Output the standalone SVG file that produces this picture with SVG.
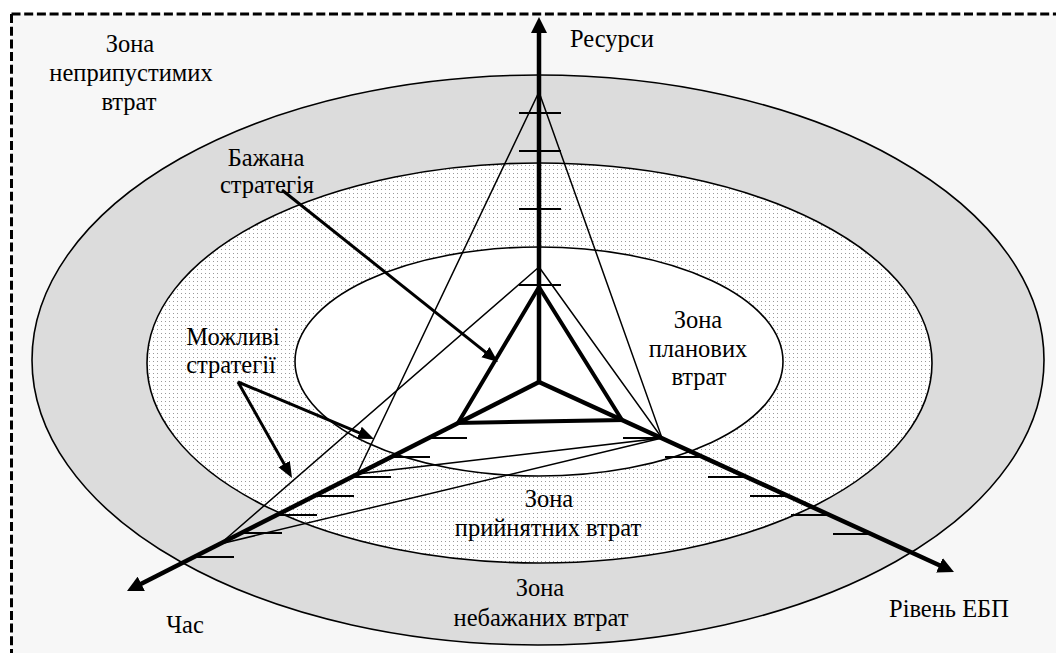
<svg xmlns="http://www.w3.org/2000/svg" width="1056" height="653" viewBox="0 0 1056 653">
<style>
text{font-family:'Liberation Serif','DejaVu Serif',serif;font-size:24.5px;fill:#000}
.zone{stroke:#000;stroke-width:1.6}
.axis{stroke:#000;stroke-width:4.5;fill:none}
.thick{stroke:#000;stroke-width:4;fill:none;stroke-linejoin:miter}
.thin{stroke:#000;stroke-width:1.5;fill:none}
.tick{stroke:#000;stroke-width:1.8}
.call{stroke:#000;stroke-width:3;fill:none}
</style>
<defs>
<pattern id="dots" width="4" height="4" patternUnits="userSpaceOnUse">
<rect width="4" height="4" fill="#fff"/>
<rect x="1" y="1" width="1" height="1" fill="#9a9a9a"/>
</pattern>
<marker id="axhead" markerUnits="userSpaceOnUse" markerWidth="18" markerHeight="16" refX="6" refY="8" orient="auto">
<path d="M0,0 L16,8 L0,16 z" fill="#000"/>
</marker>
<marker id="callhead" markerUnits="userSpaceOnUse" markerWidth="18" markerHeight="14" refX="6" refY="6.5" orient="auto">
<path d="M0,0 L16,6.5 L0,13 z" fill="#000"/>
</marker>
</defs>

<g id="frame">
<rect x="11.5" y="14" width="1060" height="660" fill="#f7f7f7"/>
<path d="M11.5,14 H1060 M11.5,14 V660" stroke="#000" stroke-width="3" stroke-dasharray="9,3.7" fill="none"/>
</g>

<g id="zone-undesired">
<ellipse cx="538" cy="360" rx="506" ry="285" fill="#dcdcdc" class="zone"/>
</g>
<g id="zone-acceptable">
<ellipse cx="539.5" cy="363" rx="392.5" ry="200" fill="url(#dots)" class="zone"/>
</g>
<g id="zone-planned">
<ellipse cx="539" cy="361.5" rx="244" ry="114.5" fill="#fff" class="zone"/>
</g>

<g id="ticks">
<path class="tick" d="M519,113 H561 M519,151 H561 M519,209 H561 M519,285 H561"/>
<path class="tick" d="M429,438 H467 M391,457 H430 M352,477 H391 M314,496 H354 M277,515 H317 M241,533 H282 M194,557 H234"/>
<path class="tick" d="M623,438 H661 M665,457 H703 M708,477 H746 M750,496 H788 M791,515 H829 M833,534 H871"/>
</g>

<g id="strategies">
<polygon class="thin" points="539,92 662,438 357,474"/>
<polygon class="thin" points="539,267 662,438 220,544"/>
<polygon class="thick" points="539,287 458,423 622,420"/>
</g>

<g id="axes">
<line id="axis-resources" class="axis" x1="539" y1="382" x2="539" y2="27" marker-end="url(#axhead)"/>
<line id="axis-time" class="axis" x1="539" y1="382" x2="135.9" y2="586.5" marker-end="url(#axhead)"/>
<line id="axis-ebp" class="axis" x1="539" y1="382" x2="944.9" y2="567.8" marker-end="url(#axhead)"/>
</g>

<g id="connectors">
<line class="call" x1="282" y1="190" x2="490.2" y2="355.8" marker-end="url(#callhead)"/>
<line class="call" x1="238" y1="382" x2="364.8" y2="435.1" marker-end="url(#callhead)"/>
<line class="call" x1="238" y1="382" x2="287.1" y2="469.3" marker-end="url(#callhead)"/>
</g>

<g id="labels" font-family="Liberation Serif, DejaVu Serif, serif">
<g id="label-inadmissible" text-anchor="middle">
<text x="130" y="52">Зона</text>
<text x="131" y="81">неприпустимих</text>
<text x="129" y="110">втрат</text>
</g>
<g id="label-resources"><text x="570" y="47">Ресурси</text></g>
<g id="label-desired" text-anchor="middle">
<text x="266" y="166">Бажана</text>
<text x="267" y="193">стратегія</text>
</g>
<g id="label-possible" text-anchor="middle">
<text x="233" y="345">Можливі</text>
<text x="231" y="373">стратегії</text>
</g>
<g id="label-planned" text-anchor="middle">
<text x="698" y="328">Зона</text>
<text x="698" y="357">планових</text>
<text x="699" y="385">втрат</text>
</g>
<g id="label-acceptable" text-anchor="middle">
<text x="549" y="507">Зона</text>
<text x="548" y="536">прийнятних втрат</text>
</g>
<g id="label-undesired" text-anchor="middle">
<text x="540" y="596">Зона</text>
<text x="541" y="626">небажаних втрат</text>
</g>
<g id="label-time"><text x="185" y="633" text-anchor="middle">Час</text></g>
<g id="label-ebp"><text x="889" y="617">Рівень ЕБП</text></g>
</g>
</svg>
